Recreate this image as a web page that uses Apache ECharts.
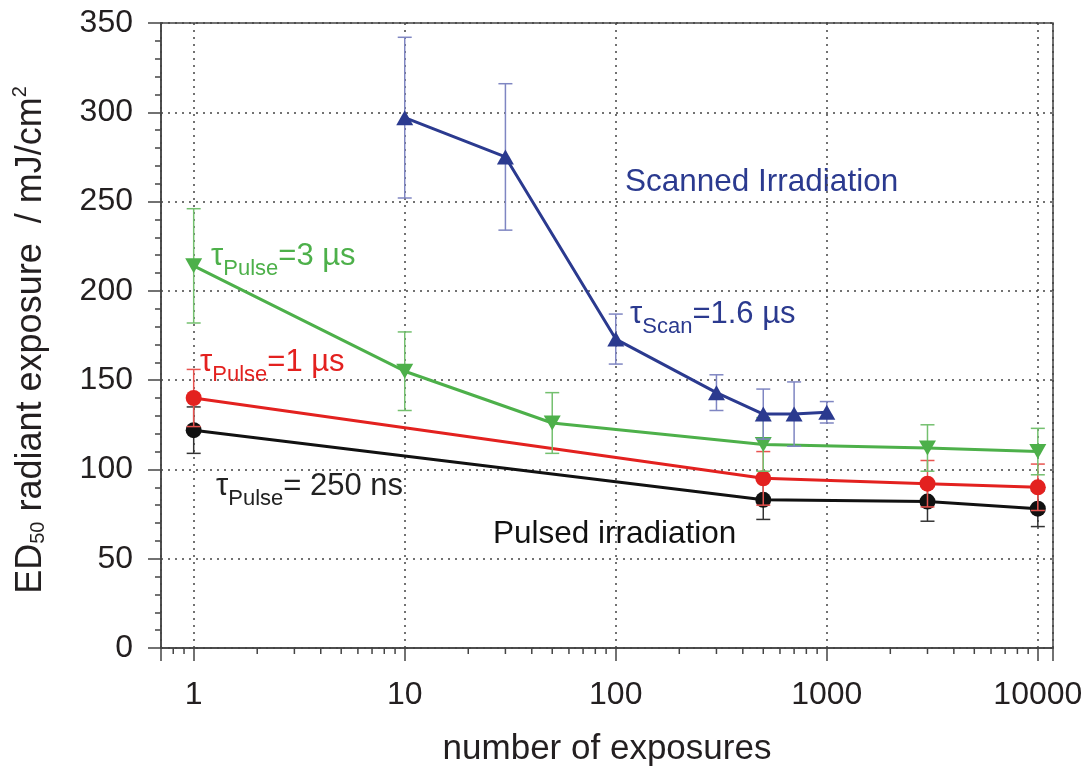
<!DOCTYPE html>
<html>
<head>
<meta charset="utf-8">
<script src="https://cdn.jsdelivr.net/npm/echarts@6/dist/echarts.min.js"></script>
<style>
html, body { margin: 0; padding: 0; background: #fff; }
#myChart { width: 1089px; height: 770px; }
</style>
</head>
<body>
<div id="myChart"></div>
<script>
// values
const xMinorTicks = [0.8, 0.9, 2, 3, 4, 5, 6, 7, 8, 9, 20, 30, 40, 50, 60, 70, 80, 90,
    200, 300, 400, 500, 600, 700, 800, 900, 2000, 3000, 4000, 5000, 6000, 7000, 8000, 9000]

const nPulsed = [1, 500, 3000, 10000]
const ed250ns = [122, 83, 82, 78]
const err250ns = [13, 11, 11, 10]
const ed1us = [140, 95, 92, 90]
const err1us = [16, 15, 13, 13]

const n3us = [1, 10, 50, 500, 3000, 10000]
const ed3us = [214, 155, 126, 114, 112, 110]
const err3us = [32, 22, 17, 15, 13, 13]

const nScan = [10, 30, 100, 300, 500, 700, 1000]
const edScan = [297, 275, 173, 143, 131, 131, 132]
const errScan = [45, 41, 14, 10, 14, 18, 6]

const font = 'Liberation Sans, Arial, Helvetica, sans-serif'
const axisColor = '#444'
const textColor = '#231f20'
const blue = '#2b3a8f', green = '#4db04a', red = '#e3211f', black = '#111111'

let myChart = echarts.init(document.getElementById('myChart'))

// error bars: vertical line with caps
function errorSeries(xs, ys, errs, color, z) {
    return {
        type: 'custom',
        silent: true,
        z: z,
        data: xs.map((x, i) => [x, ys[i] - errs[i], ys[i] + errs[i]]),
        renderItem: function (params, api) {
            const lo = api.coord([api.value(0), api.value(1)])
            const hi = api.coord([api.value(0), api.value(2)])
            const w = 7
            const st = { stroke: color, lineWidth: 1.5 }
            return {
                type: 'group',
                children: [
                    { type: 'line', shape: { x1: lo[0], y1: lo[1], x2: hi[0], y2: hi[1] }, style: st },
                    { type: 'line', shape: { x1: lo[0] - w, y1: lo[1], x2: lo[0] + w, y2: lo[1] }, style: st },
                    { type: 'line', shape: { x1: hi[0] - w, y1: hi[1], x2: hi[0] + w, y2: hi[1] }, style: st }
                ]
            }
        }
    }
}

function lineSeries(xs, ys, color, symbol, size, rotate, z) {
    return {
        type: 'line',
        z: z,
        data: xs.map((x, i) => [x, ys[i]]),
        symbol: symbol,
        symbolSize: size,
        symbolRotate: rotate,
        showAllSymbol: true,
        lineStyle: { color: color, width: 3 },
        itemStyle: { color: color }
    }
}

function tauLabel(x, y, sub, rest, color) {
    return {
        type: 'text', x: x, y: y, silent: true,
        style: {
            text: '{m|τ}{s|' + sub + '}{m|' + rest + '}',
            align: 'left', verticalAlign: 'middle', fill: color,
            rich: {
                m: { fontSize: 31, fontFamily: font, fill: color, verticalAlign: 'middle' },
                s: { fontSize: 22, fontFamily: font, fill: color, padding: [26, 0, 0, 0], verticalAlign: 'middle' }
            }
        }
    }
}

function plainLabel(x, y, text, color) {
    return {
        type: 'text', x: x, y: y, silent: true,
        style: { text: text, align: 'left', verticalAlign: 'middle', fill: color, fontSize: 31.5, fontFamily: font }
    }
}

let option = {
    animation: false,
    grid: {
        left: 161, right: 36, top: 23, bottom: 122,
        show: true, borderColor: axisColor, borderWidth: 1.5,
        outerBoundsMode: 'none'
    },
    xAxis: {
        type: 'log',
        logBase: 10,
        min: 0.7,
        max: 11800,
        axisLine: { lineStyle: { color: axisColor, width: 1.5 } },
        axisTick: { length: 13, lineStyle: { color: axisColor, width: 1.5 } },
        axisLabel: {
            margin: 31, fontSize: 32, color: textColor, fontFamily: font,
            formatter: function (v) {
                const l = Math.log10(v)
                return Math.abs(l - Math.round(l)) < 1e-6 ? String(Math.round(v)) : ''
            }
        },
        splitLine: { show: true, lineStyle: { type: [2, 5], color: axisColor, width: 1.5 } },
        name: 'number of exposures',
        nameLocation: 'middle',
        nameGap: 84,
        nameTextStyle: { fontSize: 35, color: textColor, fontFamily: font }
    },
    yAxis: {
        type: 'value',
        min: 0,
        max: 350,
        interval: 50,
        axisLine: { show: true, lineStyle: { color: axisColor, width: 1.5 } },
        axisTick: { show: true, length: 13, lineStyle: { color: axisColor, width: 1.5 } },
        minorTick: { show: true, splitNumber: 5, length: 6, lineStyle: { color: axisColor, width: 1.5 } },
        axisLabel: { margin: 28, fontSize: 32, color: textColor, fontFamily: font },
        splitLine: { show: true, lineStyle: { type: [2, 5], color: axisColor, width: 1.5 } }
    },
    graphic: [
        {
            type: 'text', x: 31, y: 340, rotation: Math.PI / 2, silent: true,
            style: {
                text: '{m|ED}{s|50}{m| radiant exposure  / mJ/cm}{p|2}',
                align: 'center', verticalAlign: 'middle', fill: textColor,
                rich: {
                    m: { fontSize: 36, fontFamily: font, fill: textColor, verticalAlign: 'middle' },
                    s: { fontSize: 20, fontFamily: font, fill: textColor, padding: [15, 0, 0, 0], verticalAlign: 'middle' },
                    p: { fontSize: 20, fontFamily: font, fill: textColor, padding: [0, 0, 22, 0], verticalAlign: 'middle' }
                }
            }
        },
        plainLabel(625, 182, 'Scanned Irradiation', blue),
        plainLabel(493, 534, 'Pulsed irradiation', black),
        tauLabel(630, 314, 'Scan', '=1.6 µs', blue),
        tauLabel(211, 256, 'Pulse', '=3 µs', green),
        tauLabel(200, 362, 'Pulse', '=1 µs', red),
        tauLabel(216, 486, 'Pulse', '= 250 ns', '#222')
    ],
    series: [
        // minor ticks of the log axis
        {
            type: 'custom',
            silent: true,
            clip: false,
            data: xMinorTicks.map(v => [v, 0]),
            renderItem: function (params, api) {
                const p = api.coord([api.value(0), 0])
                return {
                    type: 'line',
                    shape: { x1: p[0], y1: p[1], x2: p[0], y2: p[1] + 6 },
                    style: { stroke: axisColor, lineWidth: 1.5 }
                }
            }
        },
        errorSeries(nPulsed, ed250ns, err250ns, '#333', 2),
        lineSeries(nPulsed, ed250ns, black, 'circle', 16, 0, 2),
        errorSeries(nPulsed, ed1us, err1us, '#e8534f', 3),
        lineSeries(nPulsed, ed1us, red, 'circle', 16, 0, 3),
        errorSeries(n3us, ed3us, err3us, '#74c06f', 4),
        lineSeries(n3us, ed3us, green, 'triangle', [17, 15], 180, 4),
        errorSeries(nScan, edScan, errScan, '#7f86c2', 5),
        lineSeries(nScan, edScan, blue, 'triangle', [17, 15], 0, 5)
    ]
}
myChart.setOption(option)

window.addEventListener('resize', () => {
    myChart.resize()
})
</script>
</body>
</html>
